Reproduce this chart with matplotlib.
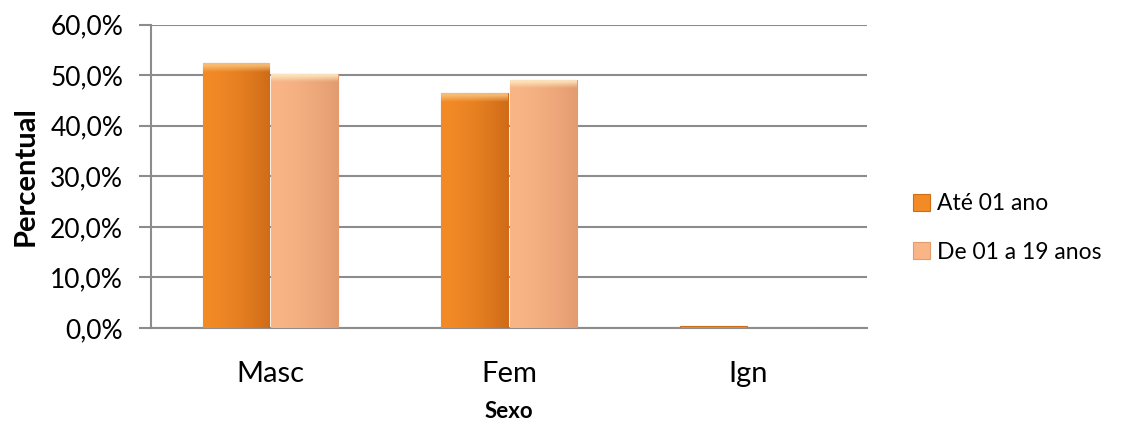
import matplotlib.pyplot as plt
from matplotlib.ticker import FuncFormatter, MultipleLocator
from matplotlib.colors import to_rgb
import numpy as np

categorias = ["Masc", "Fem", "Ign"]
series = ["Até 01 ano", "De 01 a 19 anos"]
ate_01 = [52.3, 46.4, 0.4]
de_01_19 = [50.3, 49.1, 0.0]

# cor esquerda, cor direita, brilho do topo
cores = [("#F28A26", "#D06C18", "#F9C47C"),
         ("#F9B586", "#E39C70", "#FDEBC4")]

plt.rcParams["font.family"] = ["Lato", "DejaVu Sans"]

fig = plt.figure(figsize=(11.26, 4.23), dpi=100)
ax = fig.add_axes([0.1341, 0.2246, 0.6359, 0.7174])


def gradiente(ax, patch, esq, dir_, topo):
    x0, y0 = patch.get_x(), patch.get_y()
    w, h = patch.get_width(), patch.get_height()
    if h < 2:
        # barra muito baixa: fica so a cor cheia
        return
    nx, ny = 40, 300
    t = np.linspace(0, 1, nx) ** 1.6
    a, b, c = np.array(to_rgb(esq)), np.array(to_rgb(dir_)), np.array(to_rgb(topo))
    linha = a[None, :] * (1 - t[:, None]) + b[None, :] * t[:, None]
    img = np.repeat(linha[None, :, :], ny, axis=0)
    # faixa clara no topo
    yy = np.linspace(y0 + h, y0, ny)
    mix = np.clip(1.3 - (y0 + h - yy) / 1.3, 0, 1)[:, None, None] * 0.85
    img = img * (1 - mix) + c[None, None, :] * mix
    im = ax.imshow(img, extent=[x0, x0 + w, y0, y0 + h], aspect="auto",
                   zorder=3, interpolation="bilinear")
    im.set_clip_path(patch)


x = np.arange(len(categorias))
w = 0.28
for i, (vals, nome) in enumerate(zip([ate_01, de_01_19], series)):
    off = (i - 0.5) * w * 1.03
    barras = ax.bar(x + off, vals, width=w, color=cores[i][0],
                    edgecolor=cores[i][1], linewidth=0.8, label=nome, zorder=3)
    for p in barras:
        gradiente(ax, p, *cores[i])

ax.set_xlim(-0.5, 2.5)
ax.set_ylim(0, 60)
ax.yaxis.set_major_locator(MultipleLocator(10))
ax.yaxis.set_major_formatter(FuncFormatter(lambda v, p: f"{v:.1f}%".replace(".", ",")))
ax.grid(axis="y", color="#8c8c8c", linewidth=1.5, zorder=0)
ax.set_axisbelow(True)

for s in ["top", "right"]:
    ax.spines[s].set_visible(False)
for s in ["left", "bottom"]:
    ax.spines[s].set_color("#8c8c8c")
    ax.spines[s].set_linewidth(1.5)

ax.set_xticks(x)
ax.set_xticklabels(categorias, fontsize=21)
ax.tick_params(axis="x", length=0, pad=24)
ax.tick_params(axis="y", length=9, width=1.5, color="#8c8c8c", labelsize=19, pad=11)

ax.set_ylabel("Percentual", fontsize=21, fontweight="bold", labelpad=8)
ax.set_xlabel("Sexo", fontsize=16, fontweight="bold", labelpad=10)

ax.legend(loc="center left", bbox_to_anchor=(1.035, 0.33), frameon=False,
          fontsize=16.5, handlelength=0.75, handleheight=0.75, handletextpad=0.3,
          labelspacing=1.2)

fig.savefig("out.png", dpi=100)
